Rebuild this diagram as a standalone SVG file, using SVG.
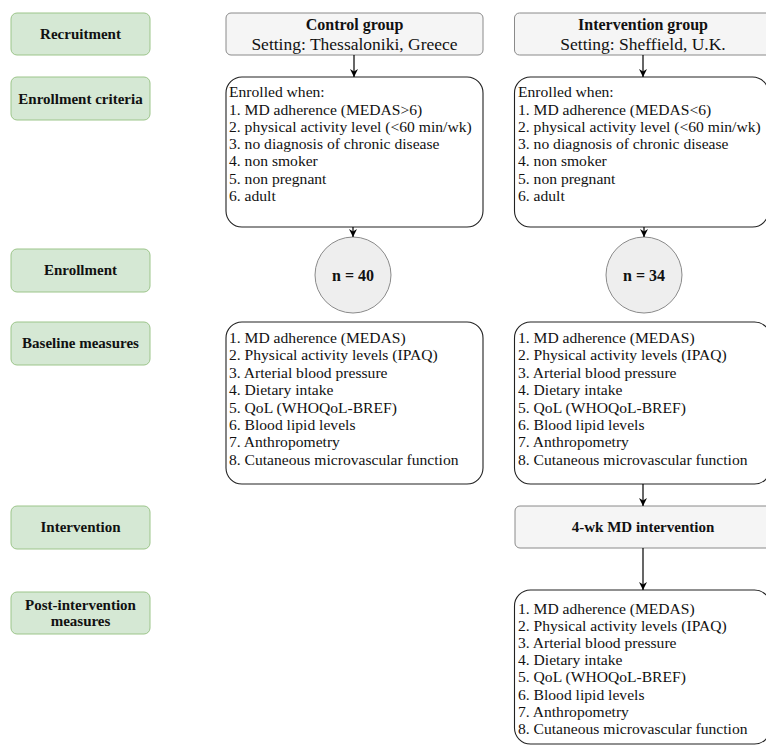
<svg xmlns="http://www.w3.org/2000/svg" width="766" height="746" viewBox="0 0 766 746">
<defs>
<marker id="arr" viewBox="0 0 10 10" refX="10" refY="5" markerWidth="8" markerHeight="8" markerUnits="userSpaceOnUse" orient="auto">
<path d="M0,0 L10,5 L0,10 L3,5 Z" fill="#000"/>
</marker>
<style>
.stage{fill:#d5e8d4;stroke:#9cc58a;stroke-width:1}
.stxt{font-family:"Liberation Serif","Times New Roman",serif;font-weight:bold;font-size:15px;fill:#111;text-anchor:middle}
.head{fill:#f5f5f5;stroke:#8a8a8a;stroke-width:1}
.box{fill:#fff;stroke:#222;stroke-width:1.1}
.circ{fill:#eeeeee;stroke:#8a8a8a;stroke-width:1}
.t{font-family:"Liberation Serif","Times New Roman",serif;font-size:15.6px;fill:#111}
.tb{font-family:"Liberation Serif","Times New Roman",serif;font-size:16px;font-weight:bold;fill:#111;text-anchor:middle}
.tc{font-family:"Liberation Serif","Times New Roman",serif;font-size:17.5px;fill:#111;text-anchor:middle}
.conn{stroke:#000;stroke-width:1.2;fill:none;marker-end:url(#arr)}
</style>
</defs>

<g id="stage-recruitment"><rect class="stage" x="11" y="13" width="139" height="42" rx="6"/><text class="stxt" x="80.5" y="39">Recruitment</text></g>
<g id="stage-criteria"><rect class="stage" x="11" y="77" width="139" height="43" rx="6"/><text class="stxt" x="80.5" y="103.5">Enrollment criteria</text></g>
<g id="stage-enrollment"><rect class="stage" x="11" y="249" width="139" height="43" rx="6"/><text class="stxt" x="80.5" y="275">Enrollment</text></g>
<g id="stage-baseline"><rect class="stage" x="11" y="322" width="139" height="43" rx="6"/><text class="stxt" x="80.5" y="348">Baseline measures</text></g>
<g id="stage-intervention"><rect class="stage" x="11" y="506" width="139" height="43" rx="6"/><text class="stxt" x="80.5" y="532">Intervention</text></g>
<g id="stage-post"><rect class="stage" x="11" y="592" width="139" height="42" rx="6"/><text class="stxt" x="80.5" y="610">Post-intervention</text><text class="stxt" x="80.5" y="626">measures</text></g>

<g id="control-header"><rect class="head" x="226" y="13" width="257" height="42" rx="5"/><text class="tb" x="354.5" y="30">Control group</text><text class="tc" x="354.5" y="50">Setting: Thessaloniki, Greece</text></g>
<g id="intervention-header"><rect class="head" x="514.5" y="13" width="260" height="42" rx="5"/><text class="tb" x="643" y="30">Intervention group</text><text class="tc" x="643" y="50">Setting: Sheffield, U.K.</text></g>

<g id="control-criteria"><rect class="box" x="226" y="77" width="257" height="150" rx="16"/>
<text class="t"><tspan x="229" y="97">Enrolled when:</tspan><tspan x="229" y="114.5">1. MD adherence (MEDAS&gt;6)</tspan><tspan x="229" y="131.8">2. physical activity level (&lt;60 min/wk)</tspan><tspan x="229" y="149">3. no diagnosis of chronic disease</tspan><tspan x="229" y="166.3">4. non smoker</tspan><tspan x="229" y="183.6">5. non pregnant</tspan><tspan x="229" y="201">6. adult</tspan></text></g>
<g id="intervention-criteria"><rect class="box" x="514.5" y="77" width="254" height="150" rx="16"/>
<text class="t"><tspan x="518" y="97">Enrolled when:</tspan><tspan x="518" y="114.5">1. MD adherence (MEDAS&lt;6)</tspan><tspan x="518" y="131.8">2. physical activity level (&lt;60 min/wk)</tspan><tspan x="518" y="149">3. no diagnosis of chronic disease</tspan><tspan x="518" y="166.3">4. non smoker</tspan><tspan x="518" y="183.6">5. non pregnant</tspan><tspan x="518" y="201">6. adult</tspan></text></g>

<g id="control-n"><circle class="circ" cx="353" cy="275" r="38"/><text class="tb" x="353" y="281">n = 40</text></g>
<g id="intervention-n"><circle class="circ" cx="644" cy="275" r="38"/><text class="tb" x="644" y="281">n = 34</text></g>

<g id="control-baseline"><rect class="box" x="226" y="322" width="257" height="162" rx="16"/>
<text class="t"><tspan x="229" y="343">1. MD adherence (MEDAS)</tspan><tspan x="229" y="360.4">2. Physical activity levels (IPAQ)</tspan><tspan x="229" y="377.8">3. Arterial blood pressure</tspan><tspan x="229" y="395.2">4. Dietary intake</tspan><tspan x="229" y="412.6">5. QoL (WHOQoL-BREF)</tspan><tspan x="229" y="430">6. Blood lipid levels</tspan><tspan x="229" y="447.4">7. Anthropometry</tspan><tspan x="229" y="464.8">8. Cutaneous microvascular function</tspan></text></g>
<g id="intervention-baseline"><rect class="box" x="514.5" y="322" width="256" height="162" rx="16"/>
<text class="t"><tspan x="518" y="343">1. MD adherence (MEDAS)</tspan><tspan x="518" y="360.4">2. Physical activity levels (IPAQ)</tspan><tspan x="518" y="377.8">3. Arterial blood pressure</tspan><tspan x="518" y="395.2">4. Dietary intake</tspan><tspan x="518" y="412.6">5. QoL (WHOQoL-BREF)</tspan><tspan x="518" y="430">6. Blood lipid levels</tspan><tspan x="518" y="447.4">7. Anthropometry</tspan><tspan x="518" y="464.8">8. Cutaneous microvascular function</tspan></text></g>

<g id="md-intervention"><rect class="head" x="515" y="506" width="260" height="42" rx="5"/><text class="tb" x="643" y="532" style="font-size:15px">4-wk MD intervention</text></g>

<g id="intervention-post"><rect class="box" x="514.5" y="590" width="256" height="154" rx="16"/>
<text class="t"><tspan x="518" y="613.5">1. MD adherence (MEDAS)</tspan><tspan x="518" y="630.7">2. Physical activity levels (IPAQ)</tspan><tspan x="518" y="647.9">3. Arterial blood pressure</tspan><tspan x="518" y="665.1">4. Dietary intake</tspan><tspan x="518" y="682.3">5. QoL (WHOQoL-BREF)</tspan><tspan x="518" y="699.5">6. Blood lipid levels</tspan><tspan x="518" y="716.7">7. Anthropometry</tspan><tspan x="518" y="733.9">8. Cutaneous microvascular function</tspan></text></g>

<g id="connectors">
<line class="conn" x1="354" y1="55" x2="354" y2="77"/>
<line class="conn" x1="643" y1="55" x2="643" y2="77"/>
<line class="conn" x1="353" y1="227" x2="353" y2="237"/>
<line class="conn" x1="644" y1="227" x2="644" y2="237"/>
<line class="conn" x1="643" y1="484" x2="643" y2="506"/>
<line class="conn" x1="643" y1="548" x2="643" y2="590"/>
</g>
</svg>
